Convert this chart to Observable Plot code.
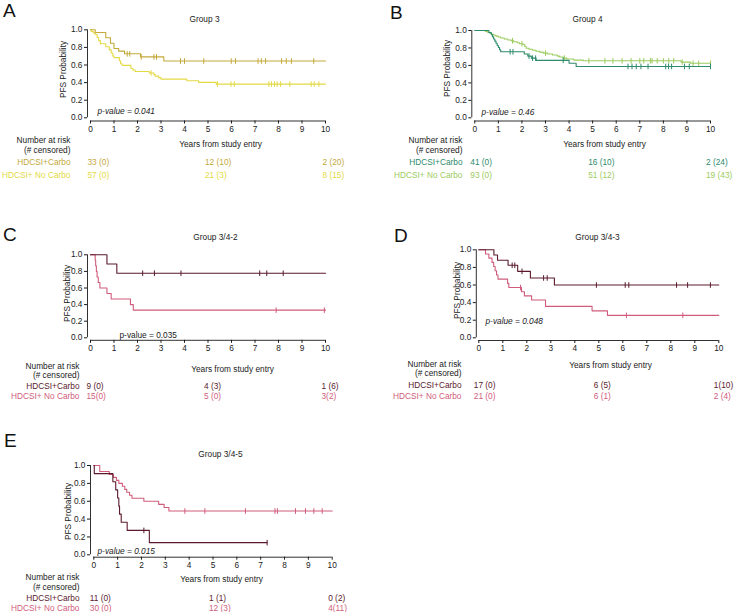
<!DOCTYPE html>
<html>
<head>
<meta charset="utf-8">
<script src="https://cdn.jsdelivr.net/npm/d3@7"></script>
<script src="https://cdn.jsdelivr.net/npm/@observablehq/plot@0.6"></script>
<style>
  body { margin: 0; background: #fff; }
  #fig { position: relative; width: 740px; height: 612px; overflow: hidden;
         font-family: "Liberation Sans", Arial, Helvetica, sans-serif; }
  .panel { position: absolute; }
  .letter { position: absolute; font-size: 19px; line-height: 1; color: #111; }
</style>
</head>
<body>
<div id="fig"></div>
<script>
// ---------- shared axis values ----------
const xTicks = [0, 1, 2, 3, 4, 5, 6, 7, 8, 9, 10];
const yTicks = [0, 0.2, 0.4, 0.6, 0.8, 1.0];
const riskTimes = [0, 5, 10];
const armNames = ["HDCSI+Carbo", "HDCSI+ No Carbo"];

// ---------- Group 3 ----------
const g3CarboSteps = [[0, 1], [0.2, 0.97], [0.65, 0.909], [0.85, 0.848], [1.0, 0.788], [1.2, 0.758], [1.45, 0.727], [2.13, 0.692], [3.12, 0.645]];
const g3CarboCensored = [1.56, 1.67, 2.16, 2.7, 2.81, 3.83, 4.0, 4.82, 5.99, 6.17, 7.13, 7.27, 7.45, 8.13, 8.33, 8.55, 9.5];
const g3CarboRisk = ["33 (0)", "12 (10)", "2 (20)"];
const g3NoCarboSteps = [[0, 1], [0.03, 0.982], [0.12, 0.965], [0.2, 0.947], [0.28, 0.912], [0.35, 0.877], [0.42, 0.842], [0.65, 0.807], [0.8, 0.772], [0.88, 0.737], [0.95, 0.702], [1.0, 0.684], [1.23, 0.649], [1.28, 0.614], [1.35, 0.596], [1.72, 0.561], [1.8, 0.544], [1.9, 0.526], [2.5, 0.509], [2.7, 0.491], [2.75, 0.474], [2.9, 0.456], [3.0, 0.439], [4.1, 0.421], [4.6, 0.403], [5.35, 0.383]];
const g3NoCarboCensored = [2.58, 5.4, 5.98, 6.12, 7.59, 7.7, 7.83, 7.94, 8.09, 8.48, 9.39, 9.52, 9.72];
const g3NoCarboRisk = ["57 (0)", "21 (3)", "8 (15)"];

// ---------- Group 4 ----------
const g4CarboSteps = [[0, 1], [0.6, 0.976], [0.7, 0.951], [0.75, 0.927], [0.8, 0.902], [0.85, 0.878], [0.9, 0.854], [0.95, 0.829], [1.0, 0.805], [1.05, 0.78], [1.1, 0.756], [2.1, 0.731], [2.25, 0.707], [2.4, 0.683], [2.6, 0.658], [4.0, 0.625], [4.3, 0.588]];
const g4CarboCensored = [1.5, 1.62, 2.3, 2.45, 2.58, 3.75, 6.5, 6.67, 6.85, 7.05, 7.35, 8.1, 8.22, 8.35, 8.9, 9.1, 10];
const g4CarboRisk = ["41 (0)", "16 (10)", "2 (24)"];
const g4NoCarboSteps = [[0, 1], [0.45, 0.989], [0.55, 0.978], [0.65, 0.968], [0.72, 0.957], [0.8, 0.946], [0.9, 0.935], [1.0, 0.925], [1.1, 0.914], [1.25, 0.903], [1.4, 0.892], [1.55, 0.882], [1.65, 0.871], [1.8, 0.86], [1.9, 0.849], [2.05, 0.839], [2.12, 0.817], [2.18, 0.796], [2.3, 0.785], [2.45, 0.774], [2.6, 0.763], [2.75, 0.752], [2.9, 0.741], [3.1, 0.73], [3.3, 0.719], [3.5, 0.707], [3.6, 0.696], [3.75, 0.684], [3.9, 0.673], [4.2, 0.661], [4.6, 0.653], [8.75, 0.638], [9.15, 0.625]];
const g4NoCarboCensored = [1.6, 2.0, 3.0, 3.8, 4.84, 5.52, 5.86, 6.25, 6.63, 7.0, 7.17, 7.45, 7.52, 7.74, 8.0, 8.23, 8.44, 8.8, 9.26, 9.5, 10];
const g4NoCarboRisk = ["93 (0)", "51 (12)", "19 (43)"];

// ---------- Group 3/4-2 ----------
const g342CarboSteps = [[0, 1], [0.7, 0.889], [1.12, 0.778]];
const g342CarboCensored = [2.22, 2.72, 3.85, 7.2, 7.5, 8.2];
const g342CarboRisk = ["9 (0)", "4 (3)", "1 (6)"];
const g342NoCarboSteps = [[0, 1], [0.2, 0.933], [0.22, 0.867], [0.25, 0.8], [0.28, 0.733], [0.33, 0.667], [0.4, 0.6], [0.7, 0.533], [0.88, 0.467], [1.7, 0.4], [1.82, 0.333]];
const g342NoCarboCensored = [7.9, 9.95];
const g342NoCarboRisk = ["15(0)", "5 (0)", "3(2)"];

// ---------- Group 3/4-3 ----------
const g343CarboSteps = [[0, 1], [0.63, 0.941], [0.78, 0.882], [1.22, 0.824], [1.62, 0.755], [2.15, 0.68], [3.15, 0.6]];
const g343CarboCensored = [1.39, 1.5, 1.8, 2.7, 2.85, 4.9, 6.1, 6.25, 8.24, 8.7, 9.65];
const g343CarboRisk = ["17 (0)", "6 (5)", "1(10)"];
const g343NoCarboSteps = [[0, 1], [0.28, 0.952], [0.42, 0.905], [0.55, 0.857], [0.62, 0.81], [0.68, 0.762], [0.74, 0.714], [0.8, 0.667], [1.2, 0.619], [1.25, 0.571], [1.78, 0.524], [1.9, 0.476], [2.2, 0.429], [2.78, 0.357], [4.72, 0.306], [5.36, 0.255]];
const g343NoCarboCensored = [1.74, 6.15, 8.5];
const g343NoCarboRisk = ["21 (0)", "6 (1)", "2 (4)"];

// ---------- Group 3/4-5 ----------
const g345CarboSteps = [[0, 1], [0.02, 0.909], [0.8, 0.818], [0.92, 0.727], [1.0, 0.636], [1.05, 0.545], [1.08, 0.455], [1.15, 0.364], [1.4, 0.273], [2.33, 0.136]];
const g345CarboCensored = [2.1, 7.27];
const g345CarboRisk = ["11 (0)", "1 (1)", "0 (2)"];
const g345NoCarboSteps = [[0, 1], [0.25, 0.933], [0.65, 0.9], [0.82, 0.867], [0.95, 0.833], [1.05, 0.8], [1.2, 0.767], [1.3, 0.733], [1.38, 0.7], [1.5, 0.667], [1.6, 0.633], [2.1, 0.6], [2.72, 0.565], [2.95, 0.53], [3.15, 0.49]];
const g345NoCarboCensored = [3.82, 4.66, 6.36, 7.6, 7.7, 8.46, 8.88, 9.23, 9.58];
const g345NoCarboRisk = ["30 (0)", "12 (3)", "4(11)"];

// ---------- palette ----------
const olive = "#C3A93D", yellow = "#E3DA45";
const teal = "#2E8B6C", lime = "#9CCB5E";
const maroon = "#5A1A2C", pink = "#D05C7C";
const ink = "#1a1a1a";
const FONT = '"Liberation Sans", Arial, Helvetica, sans-serif';
const FS = 8.3;

// a short vertical bar used for censoring marks
const vbar = { draw(ctx, size) { const h = Math.sqrt(size / Math.PI); ctx.moveTo(0, -h); ctx.lineTo(0, h); } };

function survivalAt(steps, t) {
  let s = 1;
  for (const [tt, p] of steps) if (tt <= t) s = p;
  return s;
}

function kmPanel(spec, L) {
  const mL = L.x0 - L.left, mR = L.left + L.width - L.x10;
  const mT = L.y1 - L.top, mB = L.top + L.height - L.y0;
  const at = (X, Y) => ({ frameAnchor: "top-left", dx: X - L.x0, dy: Y - L.y1 });
  const txt = { fontSize: FS, fill: ink };

  const marks = [
    Plot.ruleX([0], { y1: 0, y2: 1, dx: -L.ax, stroke: ink, strokeWidth: 0.9 }),
    Plot.ruleY([0], { x1: 0, x2: 10, dy: L.ay, stroke: ink, strokeWidth: 0.9 }),
    Plot.axisY(yTicks, { dx: -L.ax, tickSize: 3, tickPadding: 2, tickFormat: d3.format(".1f"), fontSize: FS, label: null, color: ink }),
    Plot.axisX(xTicks, { dy: L.ay, tickSize: 3, tickPadding: 2, fontSize: FS, label: null, color: ink }),
    Plot.text([spec.title], { ...at(...L.title), textAnchor: "middle", ...txt }),
    Plot.text(["PFS Probability"], { ...at(...L.ylab), rotate: -90, textAnchor: "middle", ...txt }),
    Plot.text(["Years from study entry"], { ...at(...L.xlab), textAnchor: "middle", ...txt }),
    Plot.text(["Number at risk"], { ...at(L.nrRight, L.nrY[0]), textAnchor: "end", ...txt }),
    Plot.text(["(# censored)"], { ...at(L.nrRight, L.nrY[1]), textAnchor: "end", ...txt }),
    Plot.text([spec.pval], { ...at(...L.pval), textAnchor: "start", fontStyle: spec.italic ? "italic" : "normal", ...txt })
  ];

  spec.series.slice().reverse().forEach(s => {
    const path = s.steps.map(([t, p]) => ({ t, p }));
    path.push({ t: s.end, p: s.steps[s.steps.length - 1][1] });
    marks.push(Plot.line(path, { x: "t", y: "p", curve: "step-after", stroke: s.color, strokeWidth: 1.1 }));
    marks.push(Plot.dot(s.censored.map(t => ({ t, p: survivalAt(s.steps, t) })),
      { x: "t", y: "p", symbol: vbar, r: 2.8, stroke: s.color, strokeWidth: 1, fill: "none" }));
  });

  spec.series.forEach((s, i) => {
    marks.push(Plot.text([armNames[i]], { ...at(L.nrRight, L.rows[i]), textAnchor: "end", fontSize: FS, fill: s.color }));
    marks.push(Plot.text(riskTimes.map((t, j) => ({ t, v: s.risk[j] })),
      { x: "t", text: "v", frameAnchor: "top", dy: L.rows[i] - L.y1, dx: L.rdx, textAnchor: "start", fontSize: FS, fill: s.color }));
  });

  const svg = Plot.plot({
    width: L.width, height: L.height,
    marginLeft: mL, marginRight: mR, marginTop: mT, marginBottom: mB,
    x: { domain: [0, 10], axis: null },
    y: { domain: [0, 1], axis: null },
    style: { fontFamily: FONT, fontSize: FS + "px", background: "none", overflow: "visible", color: ink },
    marks
  });
  const div = document.createElement("div");
  div.className = "panel";
  div.style.left = L.left + "px";
  div.style.top = L.top + "px";
  div.appendChild(svg);
  return div;
}

const panels = [
  {
    letter: "A", letterPos: [3, 0.5],
    spec: {
      title: "Group 3", pval: "p-value = 0.041", italic: true,
      series: [
        { steps: g3CarboSteps, censored: g3CarboCensored, end: 10, risk: g3CarboRisk, color: olive },
        { steps: g3NoCarboSteps, censored: g3NoCarboCensored, end: 10, risk: g3NoCarboRisk, color: yellow }
      ]
    },
    layout: { left: 0, top: 0, width: 370, height: 185, x0: 90, x10: 325, y1: 29.3, y0: 117.3, ax: 3, ay: 3.2,
      title: [204, 16], ylab: [60, 69], xlab: [220, 141], nrRight: 70, nrY: [137, 147], rows: [159, 172], rdx: -3, pval: [97, 108] }
  },
  {
    letter: "B", letterPos: [390, 2.5],
    spec: {
      title: "Group 4", pval: "p-value = 0.46", italic: true,
      series: [
        { steps: g4CarboSteps, censored: g4CarboCensored, end: 10, risk: g4CarboRisk, color: teal },
        { steps: g4NoCarboSteps, censored: g4NoCarboCensored, end: 10, risk: g4NoCarboRisk, color: lime }
      ]
    },
    layout: { left: 370, top: 0, width: 370, height: 185, x0: 474.3, x10: 710, y1: 30, y0: 117.3, ax: 3, ay: 3.2,
      title: [587, 16], ylab: [444, 68], xlab: [604, 141], nrRight: 462, nrY: [137, 147], rows: [159, 172], rdx: -4.5, pval: [481, 109] }
  },
  {
    letter: "C", letterPos: [3, 224.5],
    spec: {
      title: "Group 3/4-2", pval: "p-value = 0.035", italic: false,
      series: [
        { steps: g342CarboSteps, censored: g342CarboCensored, end: 10, risk: g342CarboRisk, color: maroon },
        { steps: g342NoCarboSteps, censored: g342NoCarboCensored, end: 10, risk: g342NoCarboRisk, color: pink }
      ]
    },
    layout: { left: 0, top: 220, width: 370, height: 185, x0: 90, x10: 325, y1: 254.3, y0: 337.3, ax: 3, ay: 2.5,
      title: [215, 234], ylab: [63.5, 293], xlab: [232, 366], nrRight: 79, nrY: [362.5, 372], rows: [382.5, 393], rdx: -4, pval: [119, 332] }
  },
  {
    letter: "D", letterPos: [394, 225.5],
    spec: {
      title: "Group 3/4-3", pval: "p-value = 0.048", italic: true,
      series: [
        { steps: g343CarboSteps, censored: g343CarboCensored, end: 10, risk: g343CarboRisk, color: maroon },
        { steps: g343NoCarboSteps, censored: g343NoCarboCensored, end: 10, risk: g343NoCarboRisk, color: pink }
      ]
    },
    layout: { left: 370, top: 220, width: 370, height: 185, x0: 478.3, x10: 718.3, y1: 249.3, y0: 337.3, ax: 2.5, ay: 2.7,
      title: [597, 234], ylab: [454, 290], xlab: [610, 362], nrRight: 461, nrY: [360.5, 370], rows: [382, 393], rdx: -5, pval: [485, 318] }
  },
  {
    letter: "E", letterPos: [4, 430.5],
    spec: {
      title: "Group 3/4-5", pval: "p-value = 0.015", italic: true,
      series: [
        { steps: g345CarboSteps, censored: g345CarboCensored, end: 7.27, risk: g345CarboRisk, color: maroon },
        { steps: g345NoCarboSteps, censored: g345NoCarboCensored, end: 10, risk: g345NoCarboRisk, color: pink }
      ]
    },
    layout: { left: 0, top: 400, width: 370, height: 212, x0: 93.3, x10: 331.7, y1: 465, y0: 554.3, ax: 3.3, ay: 2.4,
      title: [220, 451], ylab: [65, 511], xlab: [221, 576], nrRight: 79, nrY: [574, 583.5], rows: [595, 604.5], rdx: -4, pval: [97, 548] }
  }
];

const fig = document.getElementById("fig");
for (const p of panels) {
  fig.appendChild(kmPanel(p.spec, p.layout));
  const lab = document.createElement("div");
  lab.className = "letter";
  lab.textContent = p.letter;
  lab.style.left = p.letterPos[0] + "px";
  lab.style.top = p.letterPos[1] + "px";
  fig.appendChild(lab);
}
</script>
</body>
</html>
